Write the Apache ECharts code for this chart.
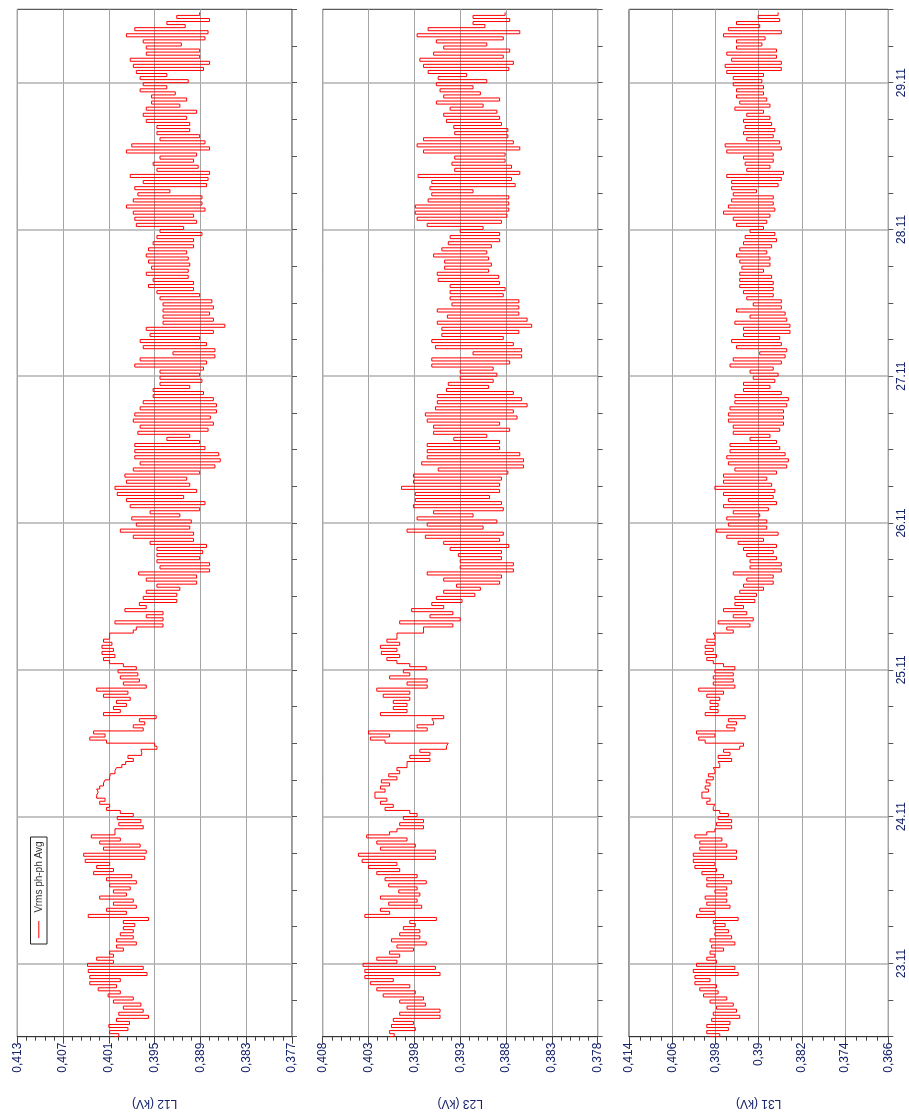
<!DOCTYPE html>
<html>
<head>
<meta charset="utf-8">
<script src="https://cdn.jsdelivr.net/npm/echarts@6/dist/echarts.min.js"></script>
<style>
  html, body { margin: 0; padding: 0; background: #fff; }
  #chart { width: 909px; height: 1116px; }
</style>
</head>
<body>
<div id="chart"></div>
<script>
// time axis in hours counted from 22.11 00:00, one reading every 30 min
const startHour = 12;
const stepHours = 0.5;
const dayHours = [24, 48, 72, 96, 120, 144, 168];
const dayLabels = ['23.11', '24.11', '25.11', '26.11', '27.11', '28.11', '29.11'];

// Vrms ph-ph Avg (kV), 22.11 12:00 -> 29.11 11:30
const l12 = [
  // 22.11
  0.4003,0.3997, 0.4009,0.3985, 0.4010,0.3983, 0.4000,0.3958, 0.3997,0.3965, 0.3991,0.3968, 0.4004,0.3978, 0.4011,0.3995, 0.4024,0.4000, 0.4035,0.3995, 0.4035,0.3960, 0.4037,0.3965,
  // 23.11
  0.4038,0.4004, 0.4026,0.4004, 0.4009,0.3991, 0.4000,0.3974, 0.4000,0.3978, 0.3995,0.3978, 0.3991,0.3976, 0.3991,0.3958, 0.4037,0.3987, 0.4013,0.3974, 0.4004,0.3978, 0.4022,0.3987,
  0.4004,0.3982, 0.4009,0.3974, 0.4013,0.3980, 0.4030,0.4004, 0.4026,0.4009, 0.4041,0.3963, 0.4043,0.3961, 0.4017,0.3969, 0.4022,0.3995, 0.4033,0.4002, 0.4002,0.3965, 0.3997,0.3968,
  // 24.11
  0.3999,0.3978, 0.3995,0.4013, 0.4009,0.4022, 0.4015,0.4026, 0.4024,0.4026, 0.4022,0.4017, 0.4015,0.4009, 0.4008,0.4002, 0.4000,0.3993, 0.3988,0.3978, 0.3985,0.3967, 0.3968,0.3947,
  0.3950,0.4013, 0.4035,0.4015, 0.4030,0.3965, 0.3978,0.3963, 0.3970,0.3948, 0.4017,0.3995, 0.4004,0.3987, 0.4000,0.3982, 0.4017,0.3985, 0.4026,0.3961, 0.3991,0.3970, 0.3995,0.3972,
  // 25.11
  0.3998,0.3974, 0.3991,0.4009, 0.4017,0.4002, 0.4019,0.4004, 0.4019,0.4006, 0.4017,0.4009, 0.4009,0.3978, 0.3974,0.3939, 0.4002,0.3939, 0.3961,0.3939, 0.3989,0.3961, 0.3970,0.3921,
  0.3965,0.3921, 0.3961,0.3917, 0.3947,0.3895, 0.3961,0.3895, 0.3971,0.3878, 0.3943,0.3878, 0.3947,0.3891, 0.3947,0.3887, 0.3947,0.3882, 0.3956,0.3899, 0.3978,0.3899, 0.3995,0.3904,
  // 26.11
  0.3974,0.3902, 0.3980,0.3917, 0.3956,0.3891, 0.3982,0.3884, 0.3987,0.3912, 0.3999,0.3895, 0.4002,0.3904, 0.3987,0.3908, 0.3989,0.3891, 0.3978,0.3871, 0.3969,0.3864, 0.3976,0.3866,
  0.3976,0.3884, 0.3976,0.3891, 0.3934,0.3904, 0.3972,0.3880, 0.3969,0.3873, 0.3978,0.3877, 0.3976,0.3869, 0.3969,0.3869, 0.3965,0.3873, 0.3952,0.3886, 0.3952,0.3904, 0.3943,0.3888,
  // 27.11
  0.3943,0.3891, 0.3943,0.3886, 0.3976,0.3882, 0.3969,0.3871, 0.3926,0.3871, 0.3965,0.3882, 0.3969,0.3891, 0.3956,0.3873, 0.3961,0.3858, 0.3939,0.3873, 0.3939,0.3878, 0.3939,0.3873,
  0.3939,0.3875, 0.3943,0.3891, 0.3947,0.3899, 0.3958,0.3899, 0.3952,0.3906, 0.3961,0.3906, 0.3954,0.3904, 0.3958,0.3906, 0.3961,0.3908, 0.3958,0.3899, 0.3952,0.3899, 0.3947,0.3888,
  // 28.11
  0.3943,0.3912, 0.3974,0.3895, 0.3976,0.3899, 0.3978,0.3884, 0.3987,0.3888, 0.3978,0.3888, 0.3972,0.3930, 0.3976,0.3882, 0.3965,0.3880, 0.3982,0.3878, 0.3947,0.3893, 0.3952,0.3899,
  0.3943,0.3895, 0.3987,0.3878, 0.3980,0.3884, 0.3943,0.3891, 0.3947,0.3904, 0.3947,0.3904, 0.3961,0.3908, 0.3965,0.3895, 0.3961,0.3917, 0.3954,0.3908, 0.3954,0.3923, 0.3969,0.3934,
  // 29.11
  0.3965,0.3906, 0.3969,0.3934, 0.3974,0.3886, 0.3978,0.3878, 0.3982,0.3891, 0.3961,0.3891, 0.3961,0.3915, 0.3965,0.3884, 0.3987,0.3880, 0.3976,0.3910, 0.3934,0.3878, 0.3921,0.3891
];

const l23 = [
  // 22.11
  0.4007,0.4002, 0.4007,0.3979, 0.4005,0.3981, 0.4003,0.3952, 0.3996,0.3952, 0.3988,0.3968, 0.3996,0.3970, 0.4014,0.3979, 0.4021,0.3985, 0.4028,0.4003, 0.4034,0.3952, 0.4034,0.3957,
  // 23.11
  0.4036,0.3999, 0.4021,0.3996, 0.4007,0.3981, 0.3999,0.3967, 0.4005,0.3974, 0.3996,0.3974, 0.3992,0.3979, 0.3985,0.3956, 0.4034,0.4007, 0.4017,0.3972, 0.4008,0.3977, 0.4017,0.3974,
  0.3997,0.3977, 0.4008,0.3967, 0.4012,0.3977, 0.4021,0.3996, 0.4030,0.3999, 0.4037,0.3957, 0.4041,0.3957, 0.4017,0.3979, 0.4021,0.3988, 0.4032,0.4007, 0.3999,0.3970, 0.3996,0.3970,
  // 24.11
  0.3992,0.3977, 0.3985,0.4012, 0.4003,0.4017, 0.4010,0.4023, 0.4023,0.4012, 0.4017,0.4007, 0.4016,0.3999, 0.4008,0.3996, 0.3999,0.3988, 0.3988,0.3963, 0.3985,0.3963, 0.3974,0.3945,
  0.3943,0.4012, 0.4028,0.4007, 0.4030,0.3966, 0.3977,0.3959, 0.3961,0.3948, 0.4017,0.3988, 0.4003,0.3988, 0.4003,0.3985, 0.4014,0.3985, 0.4021,0.3966, 0.3988,0.3966, 0.4007,0.3985,
  // 25.11
  0.3992,0.3967, 0.3985,0.3999, 0.4010,0.3996, 0.4016,0.3999, 0.4017,0.3996, 0.4010,0.3999, 0.3999,0.3970, 0.3970,0.3938, 0.3996,0.3930, 0.3963,0.3938, 0.3983,0.3948, 0.3961,0.3928,
  0.3956,0.3914, 0.3948,0.3908, 0.3934,0.3887, 0.3948,0.3885, 0.3966,0.3872, 0.3930,0.3872, 0.3930,0.3885, 0.3932,0.3885, 0.3941,0.3877, 0.3948,0.3887, 0.3968,0.3883, 0.3988,0.3905,
  // 26.11
  0.3966,0.3890, 0.3977,0.3916, 0.3959,0.3883, 0.3981,0.3885, 0.3979,0.3898, 0.3979,0.3887, 0.3994,0.3887, 0.3981,0.3885, 0.3981,0.3878, 0.3954,0.3861, 0.3972,0.3861, 0.3966,0.3865,
  0.3966,0.3887, 0.3966,0.3887, 0.3937,0.3901, 0.3959,0.3876, 0.3959,0.3887, 0.3966,0.3868, 0.3968,0.3872, 0.3957,0.3857, 0.3955,0.3863, 0.3955,0.3872, 0.3945,0.3899, 0.3943,0.3894,
  // 27.11
  0.3930,0.3890, 0.3930,0.3894, 0.3961,0.3876, 0.3961,0.3863, 0.3916,0.3863, 0.3957,0.3872, 0.3961,0.3883, 0.3950,0.3866, 0.3950,0.3852, 0.3955,0.3857, 0.3944,0.3866, 0.3955,0.3866,
  0.3939,0.3866, 0.3941,0.3883, 0.3941,0.3881, 0.3941,0.3887, 0.3954,0.3888, 0.3955,0.3899, 0.3947,0.3896, 0.3947,0.3899, 0.3959,0.3901, 0.3950,0.3896, 0.3943,0.3887, 0.3941,0.3887,
  // 28.11
  0.3930,0.3905, 0.3966,0.3885, 0.3977,0.3879, 0.3979,0.3877, 0.3979,0.3877, 0.3965,0.3877, 0.3961,0.3916, 0.3963,0.3870, 0.3961,0.3874, 0.3976,0.3865, 0.3936,0.3874, 0.3939,0.3881,
  0.3936,0.3881, 0.3970,0.3865, 0.3977,0.3872, 0.3970,0.3878, 0.3936,0.3878, 0.3937,0.3885, 0.3945,0.3887, 0.3948,0.3890, 0.3941,0.3905, 0.3956,0.3887, 0.3948,0.3908, 0.3952,0.3916,
  // 29.11
  0.3956,0.3901, 0.3954,0.3923, 0.3965,0.3877, 0.3970,0.3872, 0.3974,0.3883, 0.3959,0.3876, 0.3948,0.3901, 0.3956,0.3883, 0.3977,0.3865, 0.3965,0.3903, 0.3916,0.3876, 0.3916,0.3881
];

const l31 = [
  // 22.11
  0.3990,0.3972, 0.3996,0.3956, 0.3996,0.3953, 0.3987,0.3935, 0.3984,0.3941, 0.3978,0.3947, 0.3990,0.3959, 0.4002,0.3975, 0.4009,0.3978, 0.4018,0.3990, 0.4018,0.3938, 0.4021,0.3944,
  // 23.11
  0.4015,0.3978, 0.3996,0.3981, 0.3990,0.3965, 0.3987,0.3944, 0.3990,0.3950, 0.3981,0.3956, 0.3981,0.3962, 0.3984,0.3938, 0.4015,0.3981, 0.4009,0.3953, 0.3996,0.3959, 0.3999,0.3959,
  0.3981,0.3959, 0.3996,0.3950, 0.3996,0.3965, 0.4005,0.3978, 0.4018,0.3981, 0.4021,0.3941, 0.4021,0.3941, 0.4009,0.3959, 0.4009,0.3968, 0.4018,0.3996, 0.3981,0.3950, 0.3978,0.3950,
  // 24.11
  0.3975,0.3956, 0.3972,0.3984, 0.3981,0.3996, 0.3990,0.4005, 0.4005,0.3993, 0.3999,0.3990, 0.3997,0.3984, 0.3993,0.3981, 0.3984,0.3972, 0.3975,0.3950, 0.3975,0.3953, 0.3965,0.3935,
  0.3928,0.3999, 0.4011,0.3981, 0.4015,0.3944, 0.3959,0.3941, 0.3956,0.3925, 0.3999,0.3975, 0.3990,0.3975, 0.3990,0.3972, 0.3996,0.3965, 0.4011,0.3944, 0.3984,0.3947, 0.3984,0.3947,
  // 25.11
  0.3981,0.3944, 0.3965,0.3984, 0.3996,0.3978, 0.3999,0.3984, 0.3999,0.3981, 0.3996,0.3981, 0.3984,0.3947, 0.3959,0.3916, 0.3975,0.3910, 0.3947,0.3922, 0.3965,0.3928, 0.3944,0.3907,
  0.3944,0.3904, 0.3935,0.3891, 0.3928,0.3873, 0.3922,0.3873, 0.3947,0.3858, 0.3916,0.3858, 0.3916,0.3867, 0.3922,0.3873, 0.3928,0.3867, 0.3938,0.3891, 0.3959,0.3864, 0.3978,0.3885,
  // 26.11
  0.3956,0.3885, 0.3959,0.3898, 0.3947,0.3882, 0.3965,0.3867, 0.3956,0.3873, 0.3965,0.3870, 0.3981,0.3876, 0.3965,0.3885, 0.3965,0.3867, 0.3944,0.3848, 0.3956,0.3845, 0.3959,0.3851,
  0.3953,0.3861, 0.3953,0.3867, 0.3916,0.3879, 0.3947,0.3861, 0.3947,0.3854, 0.3956,0.3854, 0.3956,0.3854, 0.3953,0.3848, 0.3944,0.3845, 0.3944,0.3858, 0.3928,0.3879, 0.3928,0.3870,
  // 27.11
  0.3910,0.3864, 0.3916,0.3873, 0.3953,0.3858, 0.3947,0.3851, 0.3898,0.3848, 0.3941,0.3858, 0.3950,0.3861, 0.3928,0.3842, 0.3928,0.3842, 0.3944,0.3848, 0.3916,0.3851, 0.3941,0.3858,
  0.3910,0.3858, 0.3922,0.3873, 0.3928,0.3873, 0.3935,0.3873, 0.3935,0.3876, 0.3935,0.3891, 0.3931,0.3879, 0.3935,0.3879, 0.3941,0.3885, 0.3935,0.3876, 0.3928,0.3867, 0.3925,0.3870,
  // 28.11
  0.3916,0.3891, 0.3941,0.3885, 0.3947,0.3879, 0.3965,0.3870, 0.3956,0.3873, 0.3950,0.3873, 0.3947,0.3904, 0.3950,0.3864, 0.3950,0.3858, 0.3959,0.3854, 0.3922,0.3879, 0.3925,0.3873,
  0.3928,0.3873, 0.3959,0.3858, 0.3962,0.3861, 0.3922,0.3873, 0.3928,0.3870, 0.3925,0.3876, 0.3928,0.3879, 0.3922,0.3891, 0.3944,0.3879, 0.3935,0.3885, 0.3941,0.3891, 0.3941,0.3891,
  // 29.11
  0.3947,0.3894, 0.3947,0.3891, 0.3959,0.3858, 0.3962,0.3858, 0.3950,0.3867, 0.3959,0.3867, 0.3941,0.3894, 0.3941,0.3888, 0.3965,0.3858, 0.3956,0.3898, 0.3941,0.3861, 0.3901,0.3864
];

const panels = [
  { name: 'L12 (kV)', values: l12, min: 0.377, max: 0.413, interval: 0.006, minor: 5, left: 17.3, width: 274.7, dates: false },
  { name: 'L23 (kV)', values: l23, min: 0.378, max: 0.408, interval: 0.005, minor: 5, left: 322.7, width: 275, dates: false },
  { name: 'L31 (kV)', values: l31, min: 0.366, max: 0.414, interval: 0.008, minor: 4, left: 629, width: 259.3, dates: true }
];

const labelColor = '#16226a';
const fontFamily = '"Liberation Sans", Arial, sans-serif';

function kvLabel(v) {
  return v.toFixed(3).replace(/0+$/, '').replace('.', ',');
}

const grids = [];
const xAxes = [];
const yAxes = [];
const series = [];

panels.forEach((p, i) => {
  grids.push({
    left: p.left,
    width: p.width,
    top: 9.3,
    height: 1027.4,
    show: true,
    borderColor: '#333',
    borderWidth: 1,
    containLabel: false,
  });
  xAxes.push({
    gridIndex: i,
    type: 'value',
    inverse: true,
    position: 'bottom',
    min: p.min,
    max: p.max,
    interval: p.interval,
    name: p.name,
    nameLocation: 'middle',
    nameGap: 61,
    nameRotate: 180,
    nameTextStyle: { color: labelColor, fontSize: 12, fontFamily: fontFamily },
    axisLine: { show: true, lineStyle: { color: '#333', width: 1 } },
    axisTick: { show: true, length: 7, lineStyle: { color: '#444' } },
    minorTick: { show: true, splitNumber: p.minor, length: 4, lineStyle: { color: '#444' } },
    splitLine: { show: true, lineStyle: { color: '#a4a4a4', width: 1 } },
    axisLabel: {
      rotate: 90,
      margin: 6,
      color: labelColor,
      fontSize: 12,
      fontFamily: fontFamily,
      formatter: kvLabel,
    },
  });
  yAxes.push({
    gridIndex: i,
    type: 'value',
    position: 'right',
    min: 12,
    max: 180,
    interval: 6,
    axisLine: { show: false },
    axisTick: { show: true, length: 5, lineStyle: { color: '#555' } },
    splitLine: { show: false },
    axisLabel: {
      show: p.dates,
      rotate: 90,
      margin: 7,
      color: labelColor,
      fontSize: 12,
      fontFamily: fontFamily,
      formatter: (v) => (v % 24 === 0 ? dayLabels[v / 24 - 1] : ''),
    },
  });
  series.push({
    type: 'line',
    xAxisIndex: i,
    yAxisIndex: i,
    data: p.values.map((v, k) => [v, startHour + k * stepHours]),
    step: 'end',
    symbol: 'none',
    showSymbol: false,
    lineStyle: { color: '#ff0000', width: 1 },
    silent: true,
    markLine: {
      silent: true,
      symbol: ['none', 'none'],
      z: 1,
      label: { show: false },
      lineStyle: { color: '#b0b0b0', width: 1.6, type: 'solid' },
      data: dayHours.map((h) => ({ yAxis: h })),
    },
  });
});

const myChart = echarts.init(document.getElementById('chart'));
myChart.setOption({
  animation: false,
  backgroundColor: '#fff',
  grid: grids,
  xAxis: xAxes,
  yAxis: yAxes,
  series: series,
  graphic: [
    {
      type: 'rect',
      shape: { x: 30.5, y: 837, width: 16.5, height: 107 },
      style: { fill: '#fff', stroke: '#222', lineWidth: 1 },
      z: 100,
    },
    {
      type: 'line',
      shape: { x1: 38.8, y1: 921, x2: 38.8, y2: 938 },
      style: { stroke: '#ff0000', lineWidth: 1 },
      z: 101,
    },
    {
      type: 'text',
      x: 39,
      y: 877,
      rotation: Math.PI / 2,
      style: {
        text: 'Vrms ph-ph Avg',
        fill: '#333',
        font: '10px "Liberation Sans", Arial, sans-serif',
        align: 'center',
        verticalAlign: 'middle',
      },
      z: 101,
    },
  ],
});
</script>
</body>
</html>
